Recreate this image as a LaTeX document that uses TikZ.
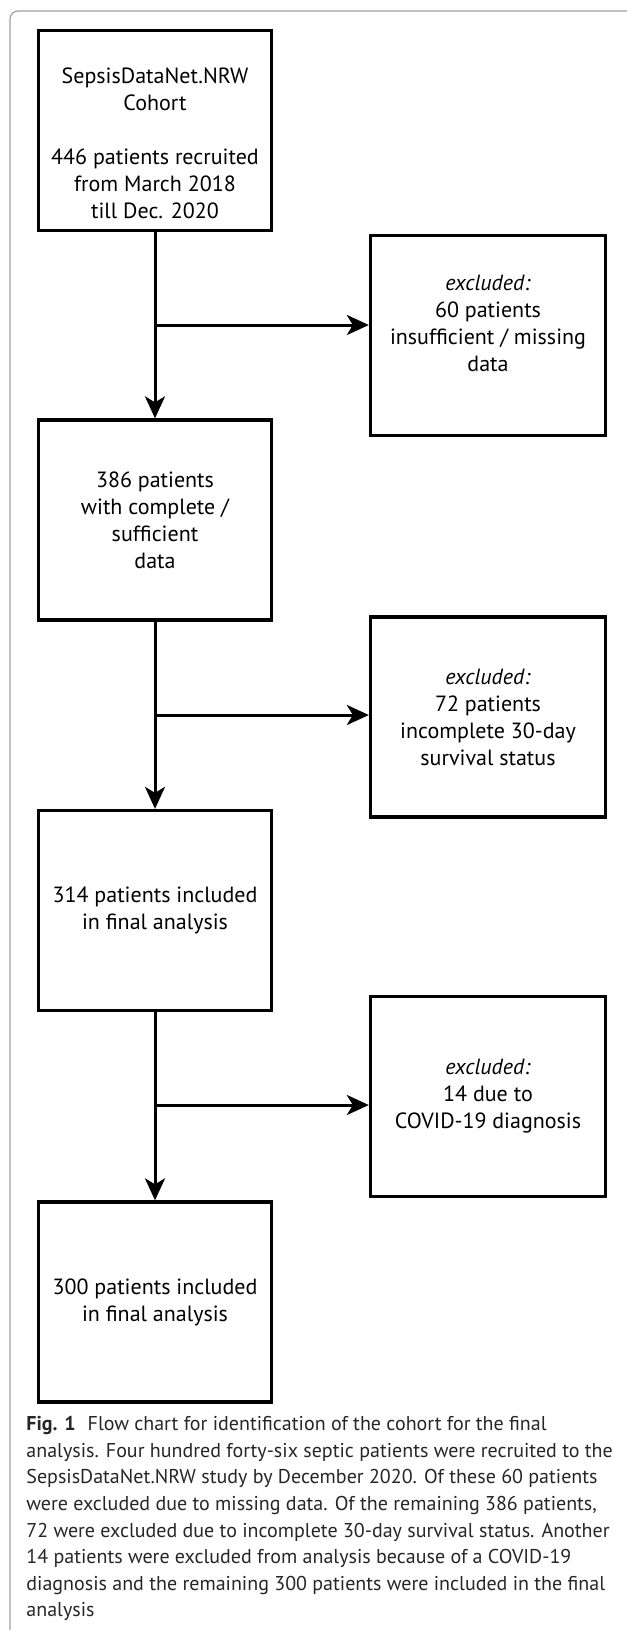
\documentclass[tikz,border=0pt]{standalone}
\usepackage{fontspec}
\setmainfont{PT Sans}
\usetikzlibrary{positioning,arrows.meta}
\tikzset{>={Stealth[length=11pt,width=10pt,inset=3pt]}}
\tikzset{
  box/.style={draw,line width=1.65pt,minimum width=116.5pt,minimum height=100pt,inner sep=0pt,align=center,font=\fontsize{11}{13.5}\selectfont},
  boxtext/.style={inner sep=0pt,align=center,font=\fontsize{11}{13.5}\selectfont},
  flow/.style={line width=1.5pt,->}
}
\begin{document}
\begin{tikzpicture}[x=0.5pt,y=-0.5pt]
\useasboundingbox (0,0) rectangle (627,1630);
\draw[gray!75,line width=0.6pt,rounded corners=4pt] (10,1630) -- (10,11) -- (627,11);
% main column
\node[box] (cohort) at (155,130.5) {};
\node[boxtext] (cohorttext) at ([yshift=-6.5pt]cohort.center) {SepsisDataNet.NRW\\Cohort\\[13.5pt]446 patients recruited\\from March 2018\\till Dec. 2020};
\node[box] (data) at (155,520) {386 patients\\with complete /\\sufficient\\data};
\node[box] (status) at (155,910.5) {314 patients included\\in final analysis};
\node[box] (final) at (155,1302) {300 patients included\\in final analysis};
% exclusions
\node[box,minimum width=117.5pt] (exa) at (488,335.5) {};
\node[boxtext] (exatext) at ([yshift=6pt]exa.center) {\textit{excluded:}\\60 patients\\insufficient / missing\\data};
\node[box,minimum width=117.5pt] (exb) at (488,717) {\textit{excluded:}\\72 patients\\incomplete 30-day\\survival status};
\node[box,minimum width=117.5pt] (exc) at (488,1096.5) {\textit{excluded:}\\14 due to\\COVID-19 diagnosis};
\coordinate (sa) at (155,325);
\coordinate (sb) at (155,715);
\coordinate (sc) at (155,1105);
\draw[flow] (cohort) -- (data);
\draw[flow] (data) -- (status);
\draw[flow] (status) -- (final);
\draw[flow] (sa) -- (sa -| exa.west);
\draw[flow] (sb) -- (sb -| exb.west);
\draw[flow] (sc) -- (sc -| exc.west);
\node[anchor=north west,inner sep=0pt,align=left,font=\fontsize{10}{13.3}\selectfont,text=black!85] (caption) at (26,1416) {\textbf{Fig. 1}\hspace{0.6em}Flow chart for identification of the cohort for the final\\
analysis. Four hundred forty-six septic patients were recruited to the\\
SepsisDataNet.NRW study by December 2020. Of these 60 patients\\
were excluded due to missing data. Of the remaining 386 patients,\\
72 were excluded due to incomplete 30-day survival status. Another\\
14 patients were excluded from analysis because of a COVID-19\\
diagnosis and the remaining 300 patients were included in the final\\
analysis};
\end{tikzpicture}
\end{document}
